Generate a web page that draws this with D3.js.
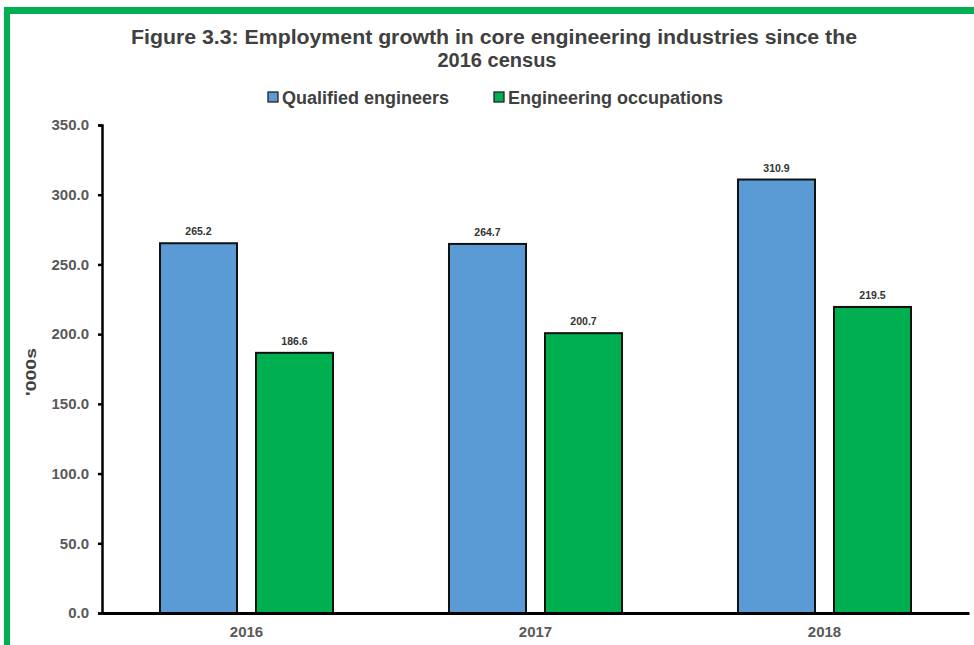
<!DOCTYPE html>
<html>
<head>
<meta charset="utf-8">
<script src="https://cdn.jsdelivr.net/npm/d3@7"></script>
<style>
  html, body { margin: 0; padding: 0; background: #ffffff; }
  svg { display: block; }
</style>
</head>
<body>
<svg id="chart" width="974" height="645"></svg>
<script>
// Chart data
const years = ["2016", "2017", "2018"];
const seriesNames = ["Qualified engineers", "Engineering occupations"];
const qualifiedEngineers = [265.2, 264.7, 310.9];
const engineeringOccupations = [186.6, 200.7, 219.5];
const yTicks = [0, 50, 100, 150, 200, 250, 300, 350];
const seriesColors = ["#5b9bd5", "#00b050"];

const seriesValues = [qualifiedEngineers, engineeringOccupations];
const rows = years.map((y, i) => ({ year: y, values: seriesValues.map(s => s[i]) }));

const svg = d3.select("#chart");
const W = 974, H = 645;
const margin = { left: 102, right: 5, top: 125, bottom: 32 };

// Green frame along the top and left edges
svg.append("rect").attr("x", 4).attr("y", 7).attr("width", W - 4).attr("height", 7).attr("fill", "#00b050");
svg.append("rect").attr("x", 4).attr("y", 7).attr("width", 6).attr("height", H - 7).attr("fill", "#00b050");

const font = "'Liberation Sans', Arial, sans-serif";

// Title
const title = svg.append("text")
  .attr("text-anchor", "middle")
  .attr("font-family", font).attr("font-weight", "bold")
  .attr("font-size", 20).attr("fill", "#404040");
title.append("tspan").attr("x", 494).attr("y", 44)
  .attr("textLength", 726).attr("lengthAdjust", "spacingAndGlyphs")
  .text("Figure 3.3: Employment growth in core engineering industries since the");
title.append("tspan").attr("x", 497).attr("y", 67).text("2016 census");

// Scales
const x0 = d3.scaleBand().domain(years).range([margin.left, W - margin.right]).padding(0);
const x1 = d3.scaleBand().domain(seriesNames).range([0, x0.bandwidth()])
  .paddingInner(0.198).paddingOuter(0.604);
const y = d3.scaleLinear().domain([0, 350]).range([H - margin.bottom, margin.top]);

// Legend
const legend = svg.append("g").attr("font-family", font).attr("font-weight", "bold")
  .attr("font-size", 18).attr("fill", "#404040");
const legendX = [268, 494];
seriesNames.forEach((name, i) => {
  const g = legend.append("g").attr("transform", `translate(${legendX[i]},97)`);
  g.append("rect").attr("x", 0).attr("y", -5).attr("width", 10).attr("height", 10)
    .attr("fill", seriesColors[i]).attr("stroke", "#222").attr("stroke-width", 1.3);
  g.append("text").attr("x", 14).attr("y", 6.5).text(name);
});

// Y axis
const yAxis = d3.axisLeft(y).tickValues(yTicks).tickFormat(d3.format(".1f")).tickSize(4).tickPadding(9);
const yg = svg.append("g").attr("transform", `translate(${margin.left},0)`).call(yAxis);
yg.select(".domain").attr("stroke", "#000").attr("stroke-width", 2.5);
yg.selectAll(".tick line").attr("stroke", "#000").attr("stroke-width", 2.5);
yg.selectAll(".tick text").attr("font-family", font).attr("font-weight", "bold")
  .attr("font-size", 15).attr("fill", "#595959");

// Y axis title
svg.append("text")
  .attr("transform", `translate(36,${(y(0) + y(350)) / 2 + 3}) rotate(-90)`)
  .attr("text-anchor", "middle")
  .attr("font-family", font).attr("font-weight", "bold").attr("font-size", 14)
  .attr("textLength", 48).attr("lengthAdjust", "spacingAndGlyphs")
  .attr("fill", "#404040").text("'000s");

// Bars
const groups = svg.append("g").selectAll("g").data(rows).join("g")
  .attr("transform", d => `translate(${x0(d.year)},0)`);

groups.selectAll("rect").data(d => d.values.map((v, i) => ({ name: seriesNames[i], v, i })))
  .join("rect")
  .attr("x", d => x1(d.name))
  .attr("y", d => y(d.v))
  .attr("width", x1.bandwidth())
  .attr("height", d => y(0) - y(d.v))
  .attr("fill", d => seriesColors[d.i])
  .attr("stroke", "#111").attr("stroke-width", 2);

// Value labels
groups.selectAll("text.val").data(d => d.values.map((v, i) => ({ name: seriesNames[i], v, i })))
  .join("text").attr("class", "val")
  .attr("x", d => x1(d.name) + x1.bandwidth() / 2)
  .attr("y", d => y(d.v) - 8)
  .attr("text-anchor", "middle")
  .attr("font-family", font).attr("font-weight", "bold").attr("font-size", 10.5)
  .attr("fill", "#333").text(d => d.v.toFixed(1));

// X axis
const xAxis = d3.axisBottom(x0).tickSize(0).tickPadding(13);
const xg = svg.append("g").attr("transform", `translate(0,${y(0)})`).call(xAxis);
xg.select(".domain").attr("stroke", "#000").attr("stroke-width", 3);
xg.selectAll(".tick text").attr("font-family", font).attr("font-weight", "bold")
  .attr("font-size", 15).attr("fill", "#595959");
</script>
</body>
</html>
